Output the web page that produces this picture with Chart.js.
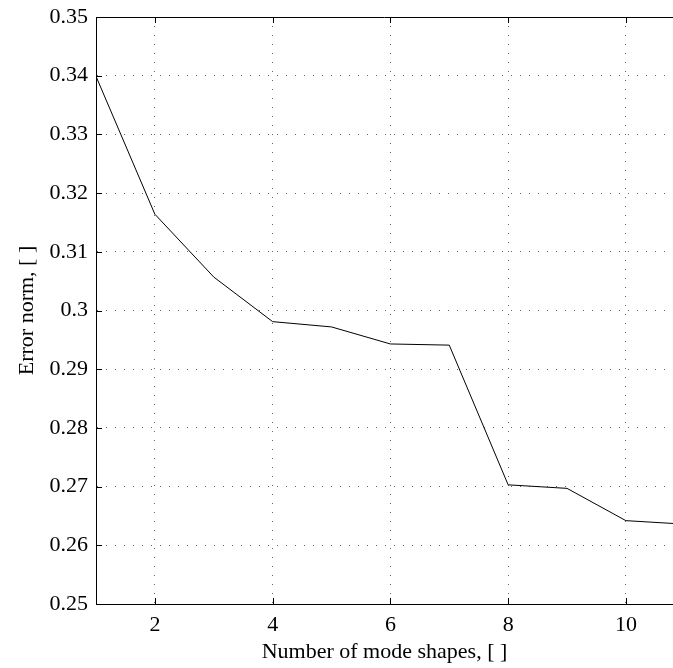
<!DOCTYPE html>
<html lang="en">
<head>
  <meta charset="UTF-8" />
  <title>Error norm vs number of mode shapes</title>
  <script src="https://cdn.jsdelivr.net/npm/chart.js"></script>
  <style>
    html, body {
        margin: 0;
        padding: 0;
        background: #ffffff;
    }
    #wrap {
        width: 673px;
        height: 668px;
    }
  </style>
</head>
<body>
  <div id="wrap"><canvas id="errChart"></canvas></div>

  <script>
    // values
    const modeShapes = [1, 2, 3, 4, 5, 6, 7, 8, 9, 10, 11];
    const errorNorm = [0.3399, 0.3164, 0.3057, 0.2981, 0.2972, 0.2943, 0.2941, 0.2703, 0.2697, 0.2642, 0.2636];
    const xTicks = [2, 4, 6, 8, 10];
    const yTicks = [0.25, 0.26, 0.27, 0.28, 0.29, 0.30, 0.31, 0.32, 0.33, 0.34, 0.35];

    const serif = "'Liberation Serif', 'DejaVu Serif', serif";

    // frame (top line) and inward tick marks, matlab style
    const frameTicks = {
      id: 'frameTicks',
      afterDatasetsDraw(chart) {
        const { ctx, chartArea: a, scales } = chart;
        const len = 6;
        ctx.save();
        ctx.strokeStyle = '#000';
        ctx.lineWidth = 1;
        ctx.beginPath();
        ctx.moveTo(a.left, a.top + 0.5);
        ctx.lineTo(a.right, a.top + 0.5);
        xTicks.forEach(v => {
          const px = Math.round(scales.x.getPixelForValue(v)) + 0.5;
          ctx.moveTo(px, a.bottom);
          ctx.lineTo(px, a.bottom - len);
          ctx.moveTo(px, a.top);
          ctx.lineTo(px, a.top + len);
        });
        yTicks.forEach(v => {
          const py = Math.round(scales.y.getPixelForValue(v)) + 0.5;
          ctx.moveTo(a.left, py);
          ctx.lineTo(a.left + len, py);
        });
        ctx.stroke();
        ctx.restore();
      }
    };

    new Chart(document.getElementById('errChart'), {
      type: 'line',
      data: {
        datasets: [{
          data: modeShapes.map((m, i) => ({ x: m, y: errorNorm[i] })),
          borderColor: '#000',
          borderWidth: 1,
          pointRadius: 0,
          tension: 0,
          fill: false
        }]
      },
      options: {
        responsive: true,
        maintainAspectRatio: false,
        animation: false,
        layout: { padding: { top: 17, right: 0, left: 0, bottom: 0 } },
        plugins: {
          legend: { display: false },
          tooltip: { enabled: false }
        },
        scales: {
          x: {
            type: 'linear',
            min: 1,
            max: 10.8,
            afterBuildTicks(scale) { scale.ticks = xTicks.map(v => ({ value: v })); },
            afterFit(scale) {
              scale.height = 64;
              scale.paddingLeft = 0;
              scale.paddingRight = 0;
            },
            border: { display: true, color: '#000', width: 1, dash: [1, 8] },
            grid: {
              color: 'rgba(0,0,0,0.6)',
              lineWidth: 1,
              drawTicks: false
            },
            ticks: {
              color: '#000',
              padding: 8,
              maxRotation: 0,
              font: { family: serif, size: 22 }
            },
            title: {
              display: true,
              text: 'Number of mode shapes, [ ]',
              color: '#000',
              padding: { top: 0, bottom: 3 },
              font: { family: serif, size: 22 }
            }
          },
          y: {
            type: 'linear',
            min: 0.25,
            max: 0.35,
            afterBuildTicks(scale) { scale.ticks = yTicks.map(v => ({ value: v })); },
            afterFit(scale) {
              scale.width = 96;
              scale.paddingTop = 0;
              scale.paddingBottom = 0;
            },
            border: { display: true, color: '#000', width: 1, dash: [1, 8] },
            grid: {
              color: 'rgba(0,0,0,0.6)',
              lineWidth: 1,
              drawTicks: false
            },
            ticks: {
              color: '#000',
              padding: 8,
              font: { family: serif, size: 22 },
              callback: v => String(Number(v.toFixed(2)))
            },
            title: {
              display: true,
              text: 'Error norm, [ ]',
              color: '#000',
              padding: { top: 14, bottom: 0 },
              font: { family: serif, size: 22 }
            }
          }
        }
      },
      plugins: [frameTicks]
    });
  </script>
</body>
</html>
